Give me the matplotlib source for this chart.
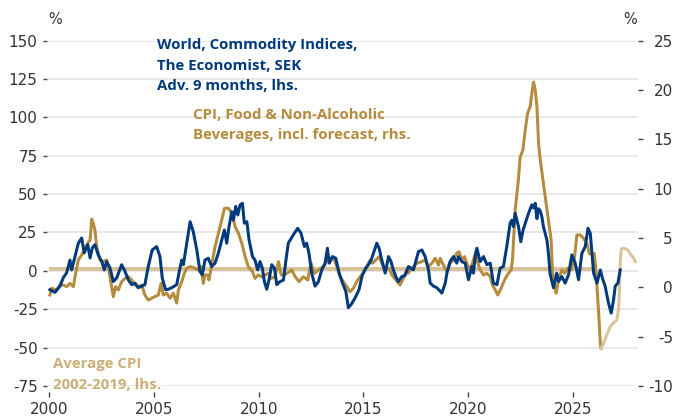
import matplotlib
matplotlib.use("Agg")
import matplotlib.pyplot as plt

# ---------------- data ----------------
blue_years = [2000.02, 2000.26, 2000.50, 2000.66, 2000.82, 2000.98, 2001.06, 2001.22, 2001.38, 2001.54,
              2001.66, 2001.83, 2001.94, 2002.05, 2002.17, 2002.33, 2002.50, 2002.62, 2002.73, 2002.89,
              2003.05, 2003.21, 2003.45, 2003.61, 2003.77, 2003.93, 2004.09, 2004.24, 2004.41, 2004.56,
              2004.72, 2004.91, 2005.12, 2005.28, 2005.39, 2005.55, 2005.68, 2005.84, 2006.08, 2006.24,
              2006.32, 2006.40, 2006.56, 2006.72, 2006.87, 2007.04, 2007.19, 2007.30, 2007.43, 2007.59,
              2007.75, 2007.91, 2008.07, 2008.23, 2008.36, 2008.47, 2008.58, 2008.71, 2008.79, 2008.90,
              2009.00, 2009.11, 2009.22, 2009.31, 2009.43, 2009.54, 2009.70, 2009.82, 2009.95, 2010.06,
              2010.17, 2010.27, 2010.38, 2010.49, 2010.62, 2010.75, 2010.86, 2011.02, 2011.18, 2011.29,
              2011.41, 2011.65, 2011.86, 2012.02, 2012.18, 2012.29, 2012.40, 2012.53, 2012.69, 2012.85,
              2013.01, 2013.17, 2013.28, 2013.37, 2013.52, 2013.68, 2013.84, 2014.00, 2014.16, 2014.28,
              2014.41, 2014.60, 2014.79, 2014.95, 2015.11, 2015.24, 2015.37, 2015.48, 2015.64, 2015.75,
              2015.88, 2016.04, 2016.20, 2016.32, 2016.43, 2016.55, 2016.67, 2016.84, 2016.99, 2017.15,
              2017.39, 2017.63, 2017.79, 2017.95, 2018.11, 2018.19, 2018.35, 2018.51, 2018.75, 2018.91,
              2018.99, 2019.14, 2019.30, 2019.46, 2019.54, 2019.70, 2019.86, 2020.02, 2020.18, 2020.26,
              2020.34, 2020.42, 2020.58, 2020.74, 2020.90, 2021.06, 2021.21, 2021.38, 2021.53, 2021.69,
              2021.85, 2022.01, 2022.09, 2022.17, 2022.25, 2022.41, 2022.52, 2022.63, 2022.89, 2023.05,
              2023.13, 2023.21, 2023.29, 2023.36, 2023.45, 2023.53, 2023.60, 2023.77, 2023.85, 2023.92,
              2024.08, 2024.24, 2024.32, 2024.48, 2024.64, 2024.80, 2024.96, 2025.12, 2025.28, 2025.44,
              2025.60, 2025.73, 2025.84, 2025.92, 2026.00, 2026.16, 2026.32, 2026.42, 2026.55, 2026.71,
              2026.84, 2026.95, 2027.03, 2027.16, 2027.27]
blue_vals = [-12.3, -14, -10, -4.5, -1.3, 7, 0.6, 9.3, 18, 21.4,
             11.7, 17, 8.4, 15, 17, 10.4, 6, 0.6, 6, 2,
             -7, -4.7, 4, -0.4, -6, -9, -8, -11, -10, -9,
             2.8, 13.6, 15.8, 9.3, -4.8, -12.3, -12, -11, -9, 2,
             7, 4, 18, 32, 25.5, 13.6, -0.4, -2.6, 7, 8.2,
             2.8, 5, 11.5, 20, 26.6, 18, 28.8, 38.5, 33, 42,
             36.4, 43, 44, 31, 32, 20, 9.3, 7, 0.6, 6,
             1.7, -7, -12, -6, 4, 1.7, -9, -7, -6, 6,
             18, 23.4, 27.7, 24.5, 15.8, 18, 11.5, -1.5, -10, -7,
             0.6, 5, 14.7, 5, 9.3, 8.2, -1.5, -8, -13.4, -24,
             -22, -17.7, -12.3, -2.6, 1.7, 4, 7, 11.5, 18, 14.7,
             7, -1.5, 9.3, 6, 0.6, -3.7, -7, -3.7, -3, 2.8,
             0.6, 12.5, 13.6, 9.3, 0.6, -8, -10, -11, -14.5, -8,
             -1.5, 6, 9.3, 5, 9.3, 6, 5, -5.8, 2.8, -1.5,
             9.3, 14.7, 6, 9.3, 4, 5, -8, -9, 1.7, 2.8,
             15.8, 31, 33, 28.8, 37.5, 28.8, 19, 26.6, 37.5, 43,
             41, 44, 34, 40.5, 39, 35, 28.8, 20, 10, -2,
             -11, -1.5, -7, -3.7, -8, -2.6, 10.4, 5, -5.8, 11.5,
             15.8, 27.7, 24.5, 11.5, -1.5, -8, 0.6, -4.8, -10, -21,
             -27.5, -19, -10, -8, 0.6]

gold_years = [2000.02, 2000.11, 2000.34, 2000.50, 2000.66, 2000.82, 2000.98, 2001.14, 2001.25, 2001.38,
              2001.54, 2001.70, 2001.83, 2001.94, 2002.02, 2002.09, 2002.17, 2002.26, 2002.41, 2002.57,
              2002.73, 2002.89, 2003.05, 2003.16, 2003.29, 2003.45, 2003.61, 2003.77, 2003.93, 2004.09,
              2004.24, 2004.41, 2004.56, 2004.72, 2004.89, 2005.04, 2005.20, 2005.33, 2005.44, 2005.60,
              2005.76, 2005.92, 2006.08, 2006.16, 2006.32, 2006.44, 2006.56, 2006.72, 2006.96, 2007.11,
              2007.24, 2007.35, 2007.43, 2007.56, 2007.62, 2007.75, 2007.91, 2008.07, 2008.23, 2008.36,
              2008.55, 2008.71, 2008.87, 2009.03, 2009.19, 2009.35, 2009.50, 2009.70, 2009.82, 2009.98,
              2010.14, 2010.30, 2010.46, 2010.59, 2010.78, 2010.94, 2011.07, 2011.26, 2011.41, 2011.58,
              2011.74, 2011.93, 2012.13, 2012.34, 2012.50, 2012.66, 2012.85, 2013.09, 2013.25, 2013.41,
              2013.61, 2013.73, 2013.89, 2014.04, 2014.21, 2014.36, 2014.52, 2014.68, 2014.84, 2015.00,
              2015.16, 2015.32, 2015.43, 2015.59, 2015.75, 2015.88, 2016.04, 2016.23, 2016.36, 2016.55,
              2016.75, 2016.91, 2017.07, 2017.15, 2017.31, 2017.55, 2017.79, 2017.95, 2018.11, 2018.27,
              2018.43, 2018.59, 2018.67, 2018.82, 2018.99, 2019.14, 2019.30, 2019.46, 2019.57, 2019.70,
              2019.83, 2019.94, 2020.10, 2020.26, 2020.37, 2020.47, 2020.58, 2020.74, 2020.90, 2021.06,
              2021.17, 2021.30, 2021.42, 2021.58, 2021.74, 2021.93, 2022.06, 2022.13, 2022.25, 2022.41,
              2022.49, 2022.62, 2022.73, 2022.84, 2022.97, 2023.05, 2023.13, 2023.21, 2023.29, 2023.37,
              2023.45, 2023.60, 2023.73, 2023.89, 2023.97, 2024.03, 2024.13, 2024.21, 2024.32, 2024.48,
              2024.61, 2024.77, 2024.93, 2025.09, 2025.20, 2025.36, 2025.52, 2025.68, 2025.79, 2025.92,
              2026.03, 2026.11, 2026.16, 2026.24, 2026.32, 2026.36]
gold_vals = [-0.78, -0.1, -0.27, 0.23, 0.23, 0.06, 0.4, 0.06, 1.4, 2.77,
             3.27, 3.95, 4.46, 4.8, 6.9, 6.5, 5.8, 4.1, 2.77, 2.6,
             2.77, 1.07, -0.95, 0.06, -0.27, 0.57, 0.9, 1.07, 0.74, 0.23,
             0.06, 0.23, -0.78, -1.3, -1.1, -0.95, -0.78, 0.4, -0.78, -0.6,
             -1.1, -0.6, -1.6, -0.27, 0.57, 1.4, 1.93, 2.1, 1.93, 1.75,
             2.1, 0.4, 1.25, 1.25, 0.74, 2.26, 4.1, 5.47, 6.8, 8.0,
             8.0, 7.5, 6.14, 5.47, 4.46, 3.1, 2.1, 1.58, 0.9, 1.25,
             1.07, 1.25, 1.42, 0.9, 1.07, 2.6, 1.25, 1.3, 1.5, 1.75,
             1.07, 0.57, 1.07, 0.74, 2.43, 1.42, 1.75, 2.1, 2.6, 2.94,
             2.77, 2.1, 1.07, 0.57, 0.06, -0.45, -0.1, 0.57, 1.07, 1.42,
             2.1, 2.77, 2.43, 2.77, 3.1, 2.43, 1.75, 1.93, 1.25, 0.74,
             0.23, 0.9, 1.75, 1.42, 1.93, 2.43, 2.6, 2.77, 2.1, 2.43,
             2.94, 2.26, 2.94, 2.26, 1.58, 2.43, 2.77, 3.44, 3.6, 2.77,
             3.1, 2.43, 1.75, 2.77, 3.6, 2.43, 1.75, 1.25, 1.42, 1.07,
             0.23, -0.27, -0.78, -0.1, 0.74, 1.42, 1.75, 3.0, 7.8, 11.0,
             13.2, 13.9, 15.9, 17.6, 18.3, 19.7, 20.8, 20.0, 18.3, 14.6,
             12.9, 10.5, 8.5, 6.0, 4.8, 1.75, 0.06, -0.6, 0.74, 1.75,
             1.42, 1.93, 1.75, 3.1, 5.3, 5.3, 4.96, 4.46, 3.44, 3.27,
             3.44, 1.75, 0.06, -2.6, -5.7, -6.2]

fc_years = [2026.36, 2026.47, 2026.63, 2026.79, 2026.95, 2027.11, 2027.19, 2027.24, 2027.27, 2027.32,
            2027.43, 2027.59, 2027.75, 2027.91, 2027.99]
fc_vals = [-6.2, -5.7, -4.8, -4.0, -3.6, -3.3, -2.2, 0.06, 2.6, 3.9,
           3.95, 3.85, 3.4, 2.94, 2.6]

avg_years = [2000.0, 2026.1]
avg_vals = [1.5, 1.5]

x_ticks = [2000, 2005, 2010, 2015, 2020, 2025]
x_labels = ["2000", "2005", "2010", "2015", "2020", "2025"]
lhs_ticks = [150, 125, 100, 75, 50, 25, 0, -25, -50, -75]
lhs_labels = ["150", "125", "100", "75", "50", "25", "0", "-25", "-50", "-75"]
rhs_ticks = [25, 20, 15, 10, 5, 0, -5, -10]
rhs_labels = ["25", "20", "15", "10", "5", "0", "-5", "-10"]

blue_text = ["World, Commodity Indices,", "The Economist, SEK", "Adv. 9 months, lhs."]
gold_text = ["CPI, Food & Non-Alcoholic", "Beverages, incl. forecast, rhs."]
avg_text = ["Average CPI", "2002-2019, lhs."]

# ---------------- style ----------------
BLUE = "#003A7D"
GOLD = "#B58B3E"
LIGHT = "#D8C39A"
AVG_TXT = "#CCAF76"
TICK_TXT = "#333333"
GRID = "#E2E2E2"

W, H = 676, 419
fig = plt.figure(figsize=(W / 100, H / 100), dpi=100)
fig.patch.set_facecolor("white")

L, R, T, B = 48, 638, 40.5, 386
ax0 = fig.add_axes([L / W, 1 - B / H, (R - L) / W, (B - T) / H])
ax2 = ax0.twinx()
ax3 = ax0.twinx()

px = 0.72  # points per pixel at 100 dpi

for a in (ax0, ax2, ax3):
    for s in a.spines.values():
        s.set_visible(False)
    a.set_xlim(1999.93, 2028.12)

# left axis (lhs) with grid
ax0.set_ylim(-75, 150)
ax0.set_yticks(lhs_ticks)
ax0.set_yticklabels(lhs_labels)
ax0.spines["left"].set_position(("outward", 1 * px))
ax0.spines["bottom"].set_position(("outward", 6 * px))
ax0.set_xticks(x_ticks)
ax0.set_xticklabels(x_labels)
ax0.tick_params(axis="y", length=4.5 * px, width=1.0, color="#444444", pad=5 * px,
                labelsize=11, labelcolor=TICK_TXT)
ax0.tick_params(axis="x", length=5 * px, width=1.0, color="#444444", pad=5 * px,
                labelsize=11, labelcolor=TICK_TXT)
ax0.grid(axis="y", color=GRID, linewidth=1.5 * px, zorder=0)
ax0.set_axisbelow(True)
ax0.plot(avg_years, avg_vals, color=LIGHT, linewidth=4 * px, solid_capstyle="butt", zorder=1)

# right axis (rhs) gold
ax2.set_ylim(-10, 25)
ax2.set_yticks(rhs_ticks)
ax2.set_yticklabels(rhs_labels)
ax2.tick_params(axis="y", length=5 * px, width=1.0, color="#444444", pad=30 * px,
                labelsize=11, labelcolor=TICK_TXT)
for lbl in ax2.get_yticklabels():
    lbl.set_horizontalalignment("right")
ax2.plot(gold_years, gold_vals, color=GOLD, linewidth=3 * px, solid_joinstyle="round")
ax2.plot(fc_years, fc_vals, color=LIGHT, linewidth=3 * px, solid_joinstyle="round")

# blue on top, lhs scale
ax3.set_ylim(-75, 150)
ax3.set_yticks([])
ax3.plot(blue_years, blue_vals, color=BLUE, linewidth=3 * px, solid_joinstyle="round")

# ---------------- texts ----------------
TXT_FONT = ["Open Sans", "DejaVu Sans"]
TXT_SIZE = 10.8


def put_lines(lines, x, baselines, color):
    for line, yb in zip(lines, baselines):
        fig.text(x / W, 1 - yb / H, line, color=color, fontsize=TXT_SIZE,
                 fontweight="bold", family=TXT_FONT, ha="left", va="baseline")


put_lines(blue_text, 157, [49.5, 69.5, 90], BLUE)
put_lines(gold_text, 193, [118.5, 138.5], GOLD)
put_lines(avg_text, 53, [368, 388.5], AVG_TXT)

fig.text(48 / W, 1 - 24 / H, "%", color=TICK_TXT, fontsize=10.5, ha="left", va="baseline")
fig.text(637 / W, 1 - 24 / H, "%", color=TICK_TXT, fontsize=10.5, ha="right", va="baseline")

fig.savefig("out.png", dpi=100, facecolor="white")
